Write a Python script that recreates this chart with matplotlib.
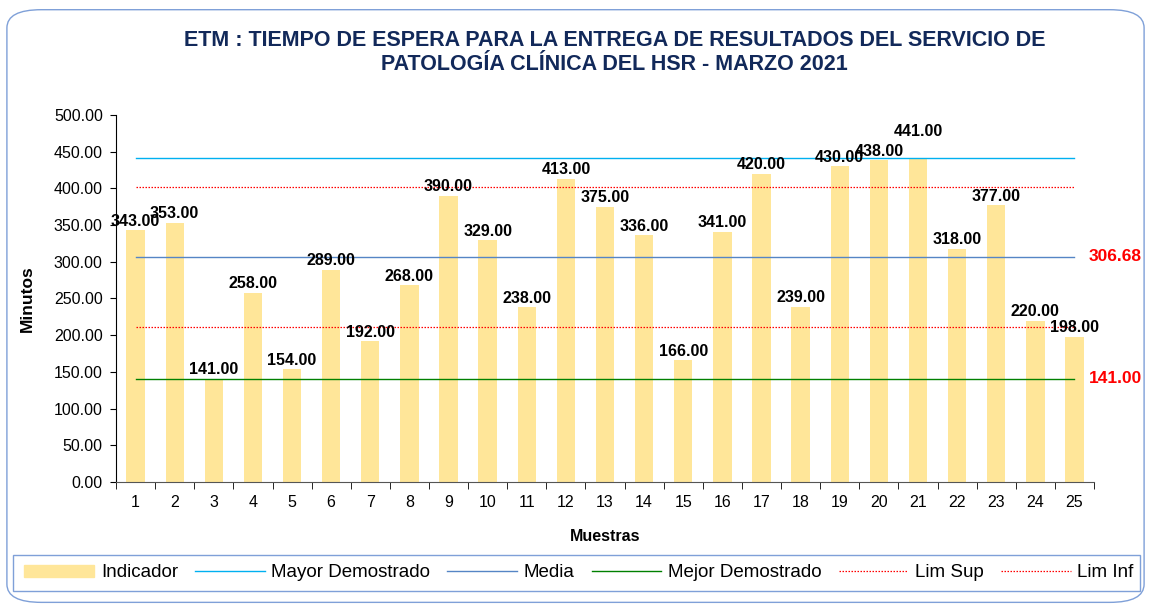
import matplotlib
matplotlib.use("Agg")
import matplotlib.pyplot as plt
from matplotlib.patches import FancyBboxPatch, Rectangle
from matplotlib.lines import Line2D

plt.rcParams["font.family"] = ["Liberation Sans", "DejaVu Sans"]

# ── data ─────────────────────────────────────────────
muestras = list(range(1, 26))
indicador = [343, 353, 141, 258, 154, 289, 192, 268, 390, 329, 238, 413, 375,
             336, 166, 341, 420, 239, 430, 438, 441, 318, 377, 220, 198]
mayor_demostrado = 441.0
media = 306.68
mejor_demostrado = 141.0
lim_sup = 401.68
lim_inf = 211.68

title = ("ETM : TIEMPO DE ESPERA PARA LA ENTREGA DE RESULTADOS DEL SERVICIO DE\n"
         "PATOLOGÍA CLÍNICA DEL HSR - MARZO 2021")

C_BAR = "#FFE699"
C_MAYOR = "#00B0F0"
C_MEDIA = "#5585C5"
C_MEJOR = "#008000"
C_LIM = "#FF0000"
C_TITLE = "#12295A"
LIM_STYLE = (0, (1.2, 1.2))

fig = plt.figure(figsize=(11.51, 6.06), dpi=100)
ax = fig.add_axes([0.1008, 0.2046, 0.8497, 0.6057])

# rounded outer frame
fig.patches.append(FancyBboxPatch((0.006, 0.006), 0.988, 0.978,
                                  boxstyle="round,pad=0,rounding_size=0.03",
                                  transform=fig.transFigure, fill=False,
                                  edgecolor="#7FA0D8", linewidth=1.0))

ax.bar(muestras, indicador, width=0.47, color=C_BAR, zorder=2)
x0, x1 = muestras[0], muestras[-1]
ax.plot([x0, x1], [mayor_demostrado] * 2, color=C_MAYOR, lw=1.0, zorder=3)
ax.plot([x0, x1], [media] * 2, color=C_MEDIA, lw=1.0, zorder=3)
ax.plot([x0, x1], [mejor_demostrado] * 2, color=C_MEJOR, lw=1.0, zorder=3)
ax.plot([x0, x1], [lim_sup] * 2, color=C_LIM, lw=0.9, ls=LIM_STYLE, zorder=3)
ax.plot([x0, x1], [lim_inf] * 2, color=C_LIM, lw=0.9, ls=LIM_STYLE, zorder=3)

# the 441 label sits higher in the original to clear its neighbour
extra_offset = {21: 13}
for x, v in zip(muestras, indicador):
    ax.annotate(f"{v:.2f}", (x, v), xytext=(0, 1 + extra_offset.get(x, 0)),
                textcoords="offset points", ha="center", va="bottom",
                fontsize=11.5, fontweight="bold", zorder=4)

ax.text(25.36, media, f"{media:.2f}", color=C_LIM, fontsize=12.5,
        fontweight="bold", va="center", ha="left", clip_on=False)
ax.text(25.36, mejor_demostrado, f"{mejor_demostrado:.2f}", color=C_LIM,
        fontsize=12.5, fontweight="bold", va="center", ha="left", clip_on=False)

ax.set_xlim(0.5, 25.5)
ax.set_ylim(0, 500)
ax.set_yticks(range(0, 501, 50))
ax.set_yticklabels([f"{t:.2f}" for t in range(0, 501, 50)], fontsize=11.5)
ax.set_xticks(muestras)
ax.set_xticklabels([str(m) for m in muestras], fontsize=11.5)
ax.set_xticks([m + 0.5 for m in range(0, 26)], minor=True)
ax.tick_params(axis="x", which="major", length=0, pad=9)
ax.tick_params(axis="x", which="minor", length=5, direction="out")
ax.tick_params(axis="y", length=4.5, direction="out", pad=5)
for s in ["top", "right"]:
    ax.spines[s].set_visible(False)
ax.spines["left"].set_color("#000000")
ax.spines["bottom"].set_color("#555555")

ax.set_ylabel("Minutos", fontsize=12.5, fontweight="bold", labelpad=14)
ax.set_xlabel("Muestras", fontsize=11.5, fontweight="bold", labelpad=14)

fig.text(0.534, 0.914, title, ha="center", va="center", fontsize=15.5,
         fontweight="bold", color=C_TITLE, linespacing=1.18)

# legend box
fig.patches.append(Rectangle((0.0113, 0.0248), 0.979, 0.0594,
                             transform=fig.transFigure, fill=False,
                             edgecolor="#7FA0D8", linewidth=1.0))
handles = [
    Rectangle((0, 0), 1, 1, color=C_BAR),
    Line2D([], [], color=C_MAYOR, lw=1.0),
    Line2D([], [], color=C_MEDIA, lw=1.0),
    Line2D([], [], color=C_MEJOR, lw=1.0),
    Line2D([], [], color=C_LIM, lw=0.9, ls=LIM_STYLE),
    Line2D([], [], color=C_LIM, lw=0.9, ls=LIM_STYLE),
]
labels = ["Indicador", "Mayor Demostrado", "Media", "Mejor Demostrado",
          "Lim Sup", "Lim Inf"]
fig.legend(handles, labels, loc="center", bbox_to_anchor=(0.503, 0.0545),
           ncol=6, frameon=False, fontsize=13.5, handlelength=3.73,
           handleheight=0.65, columnspacing=0.9, handletextpad=0.35,
           borderpad=0, borderaxespad=0)

fig.savefig("out.png", dpi=100)
